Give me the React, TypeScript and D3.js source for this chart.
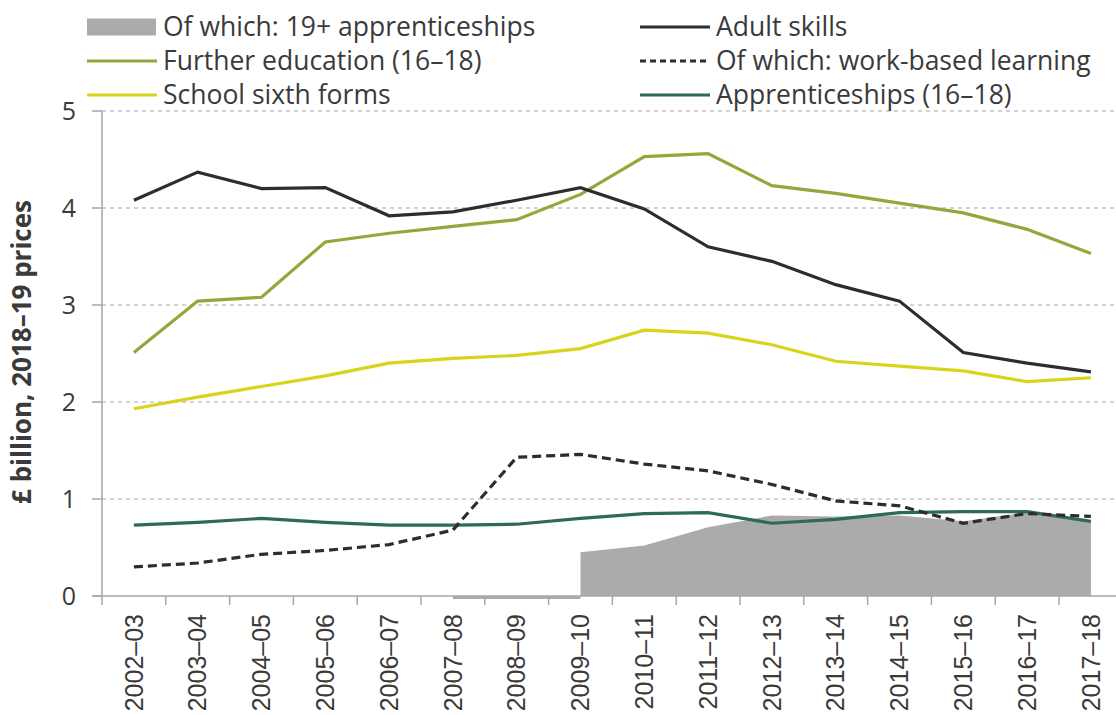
import React from 'react';
import * as d3 from 'd3';

const years = [
  '2002–03', '2003–04', '2004–05', '2005–06', '2006–07', '2007–08', '2008–09', '2009–10',
  '2010–11', '2011–12', '2012–13', '2013–14', '2014–15', '2015–16', '2016–17', '2017–18'
];

const adultSkills = [4.08, 4.37, 4.2, 4.21, 3.92, 3.96, 4.08, 4.21, 3.99, 3.6, 3.45, 3.21, 3.04, 2.51, 2.4, 2.31];
const furtherEducation = [2.51, 3.04, 3.08, 3.65, 3.74, 3.81, 3.88, 4.14, 4.53, 4.56, 4.23, 4.15, 4.05, 3.95, 3.78, 3.53];
const sixthForms = [1.93, 2.05, 2.16, 2.27, 2.4, 2.45, 2.48, 2.55, 2.74, 2.71, 2.59, 2.42, 2.37, 2.32, 2.21, 2.25];
const workBased = [0.3, 0.34, 0.43, 0.47, 0.53, 0.68, 1.43, 1.46, 1.36, 1.29, 1.15, 0.98, 0.93, 0.75, 0.85, 0.82];
const apprentices1618 = [0.73, 0.76, 0.8, 0.76, 0.73, 0.73, 0.74, 0.8, 0.85, 0.86, 0.75, 0.79, 0.86, 0.87, 0.87, 0.77];
// 19+ apprenticeships: small negative stretch, then the main area from 2009–10
const apprentices19Neg = [null, null, null, null, null, -0.03, -0.03, -0.03, null, null, null, null, null, null, null, null];
const apprentices19 = [null, null, null, null, null, null, null, 0.45, 0.52, 0.71, 0.83, 0.82, 0.83, 0.77, 0.86, 0.78];

const yTicks = [0, 1, 2, 3, 4, 5];

const W = 1116;
const H = 715;
const font = '"Open Sans", sans-serif';
const textColor = '#3a3a3a';

export default function App() {
  const x = d3.scaleBand<string>().domain(years).range([102, 102 + 16 * 63.8]).padding(0);
  const y = d3.scaleLinear().domain([0, 5]).range([596, 111]);
  const cx = (i: number) => (x(years[i]) as number) + x.bandwidth() / 2;

  const line = d3
    .line<number>()
    .x((_, i) => cx(i))
    .y((d) => y(d));

  const area = d3
    .area<number | null>()
    .defined((d) => d !== null)
    .x((_, i) => cx(i))
    .y0(y(0))
    .y1((d) => y(d as number));

  const series = [
    { key: 'fe', values: furtherEducation, color: '#93a73c', dash: undefined },
    { key: 'ssf', values: sixthForms, color: '#d8d41a', dash: undefined },
    { key: 'adult', values: adultSkills, color: '#2d2d2d', dash: undefined },
    { key: 'app', values: apprentices1618, color: '#2f6b4e', dash: undefined },
    { key: 'wbl', values: workBased, color: '#2d2d2d', dash: '9,5' }
  ];

  const legendLeft = [
    { label: 'Of which: 19+ apprenticeships', type: 'rect', color: '#ababab' },
    { label: 'Further education (16–18)', type: 'line', color: '#93a73c' },
    { label: 'School sixth forms', type: 'line', color: '#d8d41a' }
  ];
  const legendRight = [
    { label: 'Adult skills', type: 'line', color: '#2d2d2d' },
    { label: 'Of which: work-based learning', type: 'dash', color: '#2d2d2d' },
    { label: 'Apprenticeships (16–18)', type: 'line', color: '#2f6b4e' }
  ];

  const legendCol = (items: typeof legendLeft, x0: number) =>
    items.map((it, i) => {
      const ly = 27 + i * 34;
      return (
        <g key={it.label}>
          {it.type === 'rect' ? (
            <rect x={x0} y={ly - 8.5} width={69} height={17} fill={it.color} />
          ) : (
            <line
              x1={x0}
              x2={x0 + 70}
              y1={ly}
              y2={ly}
              stroke={it.color}
              strokeWidth={3}
              strokeDasharray={it.type === 'dash' ? '6,4' : undefined}
            />
          )}
          <text x={x0 + 76} y={ly} dy="0.35em" fontSize={26.5} fill={textColor} fontFamily={font}>
            {it.label}
          </text>
        </g>
      );
    });

  return (
    <svg width={W} height={H} style={{ position: 'absolute', left: 0, top: 0, background: '#fff' }}>
      {/* gridlines */}
      {yTicks.filter((t) => t > 0).map((t) => (
        <line key={t} x1={102} x2={W} y1={y(t)} y2={y(t)} stroke="#a6a6a6" strokeWidth={1} strokeDasharray="4,4" />
      ))}

      {/* 19+ apprenticeships area */}
      <path d={area(apprentices19Neg) || ''} fill="#ababab" />
      <path d={area(apprentices19) || ''} fill="#ababab" />

      {/* axes */}
      <line x1={102} x2={102} y1={111} y2={596} stroke="#a6a6a6" strokeWidth={1.5} />
      <line x1={92} x2={W} y1={y(0)} y2={y(0)} stroke="#a6a6a6" strokeWidth={1.5} />
      {yTicks.map((t) => (
        <g key={t}>
          <line x1={92} x2={102} y1={y(t)} y2={y(t)} stroke="#a6a6a6" strokeWidth={1.5} />
          <text x={76} y={y(t)} dy="0.35em" textAnchor="end" fontSize={25} fill={textColor} fontFamily={font}>
            {t}
          </text>
        </g>
      ))}
      {years.map((yr, i) => (
        <g key={yr}>
          <line x1={x(yr)} x2={x(yr)} y1={596} y2={605} stroke="#a6a6a6" strokeWidth={1.5} />
          <text
            transform={`translate(${cx(i)},614) rotate(-90)`}
            dy="0.35em"
            textAnchor="end"
            fontSize={25}
            fill={textColor}
            fontFamily='"Liberation Sans", Arial, sans-serif'
          >
            {yr}
          </text>
        </g>
      ))}

      {/* lines */}
      {series.map((s) => (
        <path
          key={s.key}
          d={line(s.values) || ''}
          fill="none"
          stroke={s.color}
          strokeWidth={3.2}
          strokeDasharray={s.dash}
        />
      ))}

      {/* y-axis title */}
      <text
        transform="translate(31,352) rotate(-90)"
        textAnchor="middle"
        fontSize={26}
        fontWeight="bold"
        fill={textColor}
        fontFamily={font}
      >
        £ billion, 2018–19 prices
      </text>

      {legendCol(legendLeft, 87)}
      {legendCol(legendRight, 640)}
    </svg>
  );
}
